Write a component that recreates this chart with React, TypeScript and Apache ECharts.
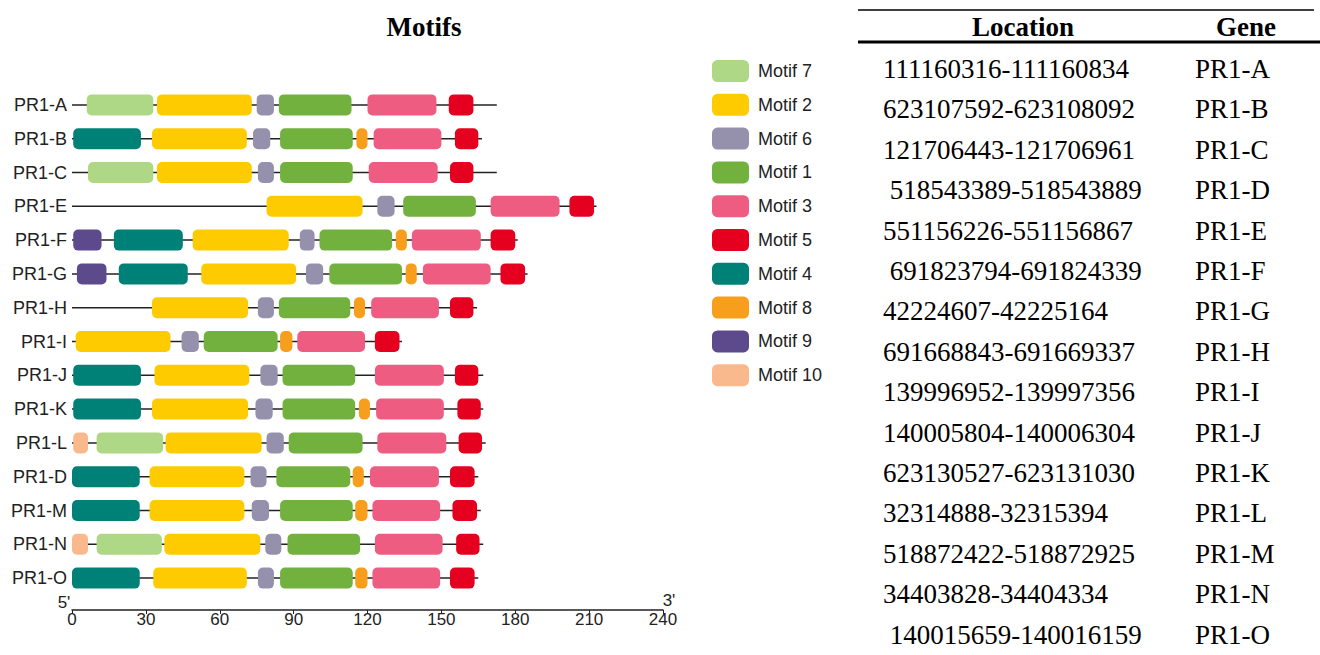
import React, { useEffect, useRef } from "react";
import * as echarts from "echarts";

// ---------- data ----------
const genes = ["PR1-A", "PR1-B", "PR1-C", "PR1-E", "PR1-F", "PR1-G", "PR1-H", "PR1-I", "PR1-J", "PR1-K", "PR1-L", "PR1-D", "PR1-M", "PR1-N", "PR1-O"];
const backboneEnd = [172.5, 166.5, 172.5, 213, 181, 185, 164.5, 134, 167, 167, 168, 165, 166, 167, 165];

const motifNames = ["Motif 7", "Motif 2", "Motif 6", "Motif 1", "Motif 3", "Motif 5", "Motif 4", "Motif 8", "Motif 9", "Motif 10"];
const motifIds = [7, 2, 6, 1, 3, 5, 4, 8, 9, 10];
const motifColors = ["#afd886", "#fdcb00", "#9591ad", "#73b13f", "#ee5d81", "#e6001f", "#008177", "#f79f1d", "#5c4a8d", "#f9b98d"];

// [motif id, start, end]
const motifsA = [[7, 6, 33], [2, 34.5, 73], [6, 75, 82], [1, 84, 113.5], [3, 120, 148], [5, 153, 163]];
const motifsB = [[4, 0.5, 28], [2, 32.5, 71], [6, 73.5, 80.5], [1, 84.5, 114], [8, 115.5, 120], [3, 122.5, 150], [5, 155.5, 165]];
const motifsC = [[7, 6.5, 33], [2, 34.5, 73], [6, 75.5, 82], [1, 84.5, 114], [3, 120.5, 148.5], [5, 153.5, 163]];
const motifsE = [[2, 79, 118], [6, 124, 131], [1, 134.5, 164], [3, 170, 198], [5, 202, 212]];
const motifsF = [[9, 0.5, 12], [4, 17, 45], [2, 49, 88], [6, 92.5, 98.5], [1, 100.5, 130], [8, 131.5, 136], [3, 138, 166], [5, 170, 180]];
const motifsG = [[9, 2, 14], [4, 19, 47], [2, 52.5, 91], [6, 95, 102], [1, 104.5, 134], [8, 135.5, 140], [3, 142.5, 170], [5, 174, 184]];
const motifsH = [[2, 32.5, 71.5], [6, 75.5, 82], [1, 84, 113], [8, 114.5, 119], [3, 121.5, 149], [5, 153.5, 163]];
const motifsI = [[2, 1.5, 40], [6, 44.5, 51.5], [1, 53.5, 83.5], [8, 84.5, 89.5], [3, 91.5, 119], [5, 123, 133]];
const motifsJ = [[4, 0.5, 28], [2, 33.5, 72], [6, 76.5, 83.5], [1, 85.5, 115], [3, 123, 151], [5, 155.5, 165]];
const motifsK = [[4, 0.5, 28], [2, 32.5, 71.5], [6, 74.5, 81.5], [1, 85.5, 115], [8, 116.5, 121], [3, 123.5, 151], [5, 156.5, 166]];
const motifsL = [[10, 0.5, 6.5], [7, 10, 37], [2, 38, 77], [6, 79, 86], [1, 88, 118], [3, 124, 152], [5, 157, 166.5]];
const motifsD = [[4, 0, 27.5], [2, 31.5, 70], [6, 72.5, 79], [1, 83, 113], [8, 114, 118.5], [3, 121, 149], [5, 153.5, 163.5]];
const motifsM = [[4, 0, 27.5], [2, 31.5, 70], [6, 73, 80], [1, 84.5, 114], [8, 115, 120], [3, 122, 149.5], [5, 154.5, 164.5]];
const motifsN = [[10, 0, 6.5], [7, 10, 36.5], [2, 37.5, 76.5], [6, 78.5, 85], [1, 87.5, 117], [3, 123, 150.5], [5, 156, 165.5]];
const motifsO = [[4, 0, 27.5], [2, 33, 71], [6, 75.5, 82], [1, 84.5, 114], [8, 115, 120], [3, 122, 149.5], [5, 153.5, 163.5]];
const rowMotifs = [motifsA, motifsB, motifsC, motifsE, motifsF, motifsG, motifsH, motifsI, motifsJ, motifsK, motifsL, motifsD, motifsM, motifsN, motifsO];

const xTicks = { min: 0, max: 240, interval: 30 };

// table
const tableLocations = [
  "111160316-111160834", "623107592-623108092", "121706443-121706961", "\u00a0518543389-518543889",
  "551156226-551156867", "\u00a0691823794-691824339", "42224607-42225164", "691668843-691669337",
  "139996952-139997356", "140005804-140006304", "623130527-623131030", "32314888-32315394",
  "518872422-518872925", "34403828-34404334", "\u00a0140015659-140016159",
];
const tableGenes = ["PR1-A", "PR1-B", "PR1-C", "PR1-D", "PR1-E", "PR1-F", "PR1-G", "PR1-H", "PR1-I", "PR1-J", "PR1-K", "PR1-L", "PR1-M", "PR1-N", "PR1-O"];

const SANS = '"Liberation Sans", Arial, sans-serif';
const SERIF = '"Liberation Serif", "Times New Roman", serif';

export default function App() {
  const ref = useRef<HTMLDivElement>(null);
  useEffect(() => {
    document.body.style.margin = "0";
    if (!ref.current) return;
    const chart = echarts.init(ref.current, undefined, { renderer: "svg" });

    const backboneData = genes.map((g, i) => [0, backboneEnd[i], i]);
    const motifSeries = motifIds.map((id, k) => {
      const data: number[][] = [];
      rowMotifs.forEach((list, row) => {
        list.forEach((m) => {
          if (m[0] === id) data.push([m[1], m[2], row]);
        });
      });
      return {
        type: "custom",
        name: motifNames[k],
        itemStyle: { color: motifColors[k] },
        encode: { x: [0, 1], y: 2 },
        z: 3,
        renderItem: (params: any, api: any) => {
          const s = api.coord([api.value(0), api.value(2)]);
          const e = api.coord([api.value(1), api.value(2)]);
          const h = 21;
          return {
            type: "rect",
            shape: { x: s[0], y: s[1] - h / 2, width: e[0] - s[0], height: h, r: 5 },
            style: { fill: api.visual("color") },
          };
        },
        data,
      };
    });

    const rowY0 = 69;
    const rowStep = 40.4;
    const tableGraphics: any[] = [];
    tableGraphics.push({ type: "line", shape: { x1: 858, y1: 10, x2: 1314, y2: 10 }, style: { stroke: "#000", lineWidth: 1.5 } });
    tableGraphics.push({ type: "line", shape: { x1: 858, y1: 42, x2: 1320, y2: 42 }, style: { stroke: "#000", lineWidth: 3 } });
    tableGraphics.push({ type: "text", x: 1023, y: 27, style: { text: "Location", font: `bold 27px ${SERIF}`, fill: "#000", align: "center", verticalAlign: "middle" } });
    tableGraphics.push({ type: "text", x: 1246, y: 27, style: { text: "Gene", font: `bold 27px ${SERIF}`, fill: "#000", align: "center", verticalAlign: "middle" } });
    tableLocations.forEach((loc, i) => {
      tableGraphics.push({ type: "text", x: 883, y: rowY0 + i * rowStep, style: { text: loc, font: `27px ${SERIF}`, fill: "#000", align: "left", verticalAlign: "middle" } });
      tableGraphics.push({ type: "text", x: 1195, y: rowY0 + i * rowStep, style: { text: tableGenes[i], font: `27px ${SERIF}`, fill: "#000", align: "left", verticalAlign: "middle" } });
    });

    chart.setOption({
      animation: false,
      grid: { left: 72, width: 591, top: 88, height: 507 },
      xAxis: {
        type: "value",
        min: xTicks.min,
        max: xTicks.max,
        interval: xTicks.interval,
        offset: 15,
        splitLine: { show: false },
        axisLine: { show: true, lineStyle: { color: "#222", width: 1.5 } },
        axisTick: { show: true, length: 4, lineStyle: { color: "#222", width: 1 } },
        axisLabel: { margin: 1, fontSize: 17, fontFamily: SANS, color: "#222" },
      },
      yAxis: {
        type: "category",
        data: genes,
        inverse: true,
        axisLine: { show: false },
        axisTick: { show: false },
        axisLabel: { margin: 5, fontSize: 18, fontFamily: SANS, color: "#222" },
      },
      legend: {
        orient: "vertical",
        left: 712,
        top: 60,
        padding: 0,
        itemWidth: 37,
        itemHeight: 22,
        itemGap: 11.8,
        icon: "roundRect",
        data: motifNames,
        textStyle: { fontSize: 18, fontFamily: SANS, color: "#222", padding: [0, 0, 0, 4] },
      },
      graphic: [
        { type: "text", x: 424, y: 27, style: { text: "Motifs", font: `bold 27px ${SERIF}`, fill: "#000", align: "center", verticalAlign: "middle" } },
        { type: "text", x: 64, y: 602, style: { text: "5'", font: `17px ${SANS}`, fill: "#222", align: "center", verticalAlign: "middle" } },
        { type: "text", x: 669, y: 600, style: { text: "3'", font: `17px ${SANS}`, fill: "#222", align: "center", verticalAlign: "middle" } },
        ...tableGraphics,
      ],
      series: [
        {
          type: "custom",
          name: "backbone",
          encode: { x: [0, 1], y: 2 },
          z: 2,
          renderItem: (params: any, api: any) => {
            const s = api.coord([api.value(0), api.value(2)]);
            const e = api.coord([api.value(1), api.value(2)]);
            return {
              type: "line",
              shape: { x1: s[0], y1: s[1], x2: e[0], y2: e[1] },
              style: { stroke: "#222", lineWidth: 1.5 },
            };
          },
          data: backboneData,
        },
        ...motifSeries,
      ],
    });
    return () => chart.dispose();
  }, []);
  return <div ref={ref} style={{ width: 1320, height: 655 }} />;
}
